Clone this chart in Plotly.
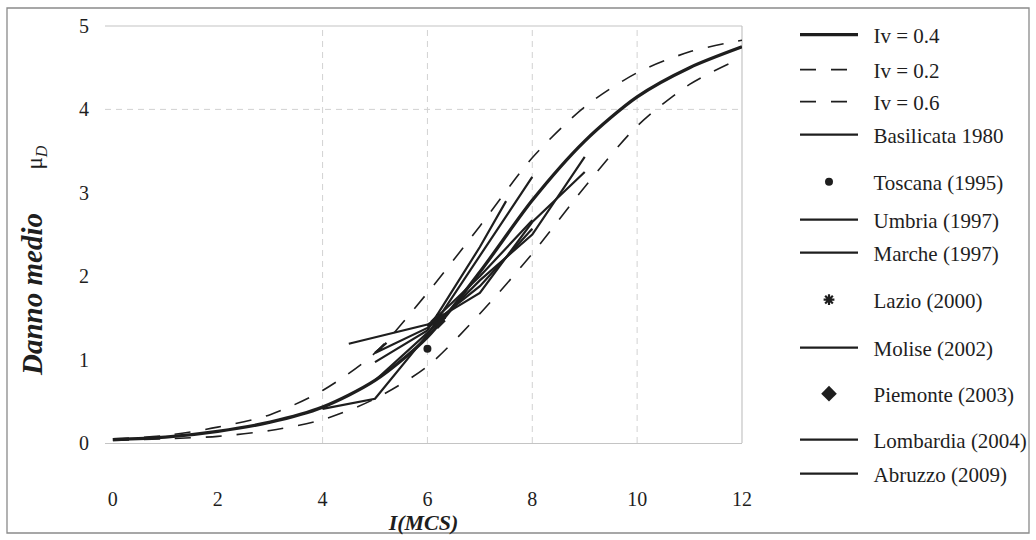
import plotly.graph_objects as go

# ---------------- data ----------------
I_model = [0, 1, 2, 3, 4, 5, 6, 7, 8, 9, 10, 11, 12]
iv04 = [0.04, 0.07, 0.14, 0.25, 0.43, 0.75, 1.27, 2.05, 2.91, 3.62, 4.15, 4.50, 4.75]
iv02 = [0.03, 0.05, 0.08, 0.15, 0.28, 0.53, 0.92, 1.55, 2.27, 3.07, 3.80, 4.30, 4.62]
iv06 = [0.05, 0.09, 0.19, 0.34, 0.63, 1.08, 1.80, 2.60, 3.42, 4.03, 4.44, 4.69, 4.83]

basilicata_I = [4.5, 6, 7, 8, 9]
basilicata_mu = [1.19, 1.42, 1.80, 2.65, 3.25]
umbria_I = [5, 6, 7, 8, 9]
umbria_mu = [0.75, 1.32, 1.95, 2.50, 3.43]
marche_I = [4, 5, 6, 7, 8]
marche_mu = [0.41, 0.53, 1.30, 2.25, 3.19]
molise_I = [5, 6, 7, 7.5]
molise_mu = [0.97, 1.35, 2.35, 2.90]
lombardia_I = [5.22, 5, 6, 7, 8]
lombardia_mu = [1.20, 1.08, 1.38, 1.88, 2.57]
abruzzo_I = [6, 7, 8]
abruzzo_mu = [1.40, 2.00, 2.67]

toscana_I = [6]
toscana_mu = [1.13]
lazio_I = [6.25]
lazio_mu = [1.50]
piemonte_I = [6.2]
piemonte_mu = [1.46]

x_ticks = [0, 2, 4, 6, 8, 10, 12]
y_ticks = [0, 1, 2, 3, 4, 5]

# ---------------- style ----------------
INK = "#1e1e1e"
GRID = "#d2d2d2"
FONT = "Liberation Serif, Times New Roman, serif"
PAD = "\u00a0\u00a0"
NB = "\u00a0"

fig = go.Figure()

def add_line(x, y, name, width, dash="solid", shape="linear", legend="legend"):
    fig.add_trace(go.Scatter(
        x=x, y=y, name=PAD + name, mode="lines",
        line=dict(color=INK, width=width, dash=dash, shape=shape, smoothing=0.8),
        legend=legend,
    ))

def add_marker(x, y, name, symbol, size, legend, lw=0):
    fig.add_trace(go.Scatter(
        x=x, y=y, name=PAD + name, mode="markers",
        marker=dict(symbol=symbol, size=size, color=INK, line=dict(color=INK, width=lw)),
        legend=legend,
    ))

add_line(I_model, iv04, "Iv = 0.4", 3.3, shape="spline", legend="legend")
add_line(I_model, iv02, "Iv = 0.2", 1.6, dash="16px,15px", shape="spline", legend="legend2")
add_line(I_model, iv06, "Iv = 0.6", 1.6, dash="16px,15px", shape="spline", legend="legend3")
add_line(basilicata_I, basilicata_mu, "Basilicata 1980", 2.2, legend="legend4")
add_marker(toscana_I, toscana_mu, "Toscana (1995)", "circle", 8, "legend5")
add_line(umbria_I, umbria_mu, "Umbria (1997)", 2.2, legend="legend6")
add_line(marche_I, marche_mu, "Marche (1997)", 2.2, legend="legend7")
add_marker(lazio_I, lazio_mu, "Lazio (2000)", "asterisk-open", 9, "legend8", lw=2.2)
add_line(molise_I, molise_mu, "Molise (2002)", 2.2, legend="legend9")
add_marker(piemonte_I, piemonte_mu, "Piemonte (2003)", "diamond", 12, "legend10")
add_line(lombardia_I, lombardia_mu, "Lombardia (2004)", 2.2, legend="legend11")
add_line(abruzzo_I, abruzzo_mu, "Abruzzo (2009)", 2.2, legend="legend12")

# plot area in pixels
L, R, T, B = 105, 742, 26, 443
W, H = 1036, 540

def py2paper(py):
    return (B - py) / (B - T)

def px2paper(px):
    return (px - L) / (R - L)

legend_py = [35, 70, 102, 135, 182, 220, 253, 300, 348, 394, 440, 474]
layout_legends = {}
for k, py in enumerate(legend_py):
    key = "legend" if k == 0 else f"legend{k+1}"
    layout_legends[key] = dict(
        x=px2paper(795), xanchor="left", y=py2paper(py), yanchor="middle",
        bgcolor="rgba(0,0,0,0)", borderwidth=0,
        font=dict(family=FONT, size=21, color=INK),
        itemwidth=58, tracegroupgap=0,
    )

shapes = []
for gx in [4, 6, 8, 10]:
    shapes.append(dict(type="line", xref="x", yref="paper", x0=gx, x1=gx, y0=0, y1=1,
                       line=dict(color=GRID, width=1, dash="6px,5px"), layer="below"))
shapes.append(dict(type="line", xref="paper", yref="y", x0=0, x1=1, y0=4, y1=4,
                   line=dict(color=GRID, width=1, dash="6px,5px"), layer="below"))
shapes.append(dict(type="line", xref="paper", yref="paper", x0=0, x1=1, y0=1, y1=1,
                   line=dict(color="#c4c4c4", width=1.2), layer="below"))
shapes.append(dict(type="line", xref="paper", yref="paper", x0=1, x1=1, y0=0, y1=1,
                   line=dict(color="#c4c4c4", width=1.2), layer="below"))
shapes.append(dict(type="rect", xref="paper", yref="paper",
                   x0=px2paper(7), x1=px2paper(1029), y0=py2paper(533), y1=py2paper(8),
                   line=dict(color="#8a8a8a", width=1.3), fillcolor="rgba(0,0,0,0)"))

annotations = [
    dict(text="<b><i>Danno medio</i></b>" + NB * 6 +
              "<span style='font-size:23px'>μ<sub><i>D</i></sub></span>",
         textangle=-90, xref="paper", yref="paper",
         x=px2paper(33), y=py2paper(261), xanchor="center", yanchor="middle",
         showarrow=False, font=dict(family=FONT, size=29, color=INK)),
]

fig.update_layout(
    width=W, height=H,
    margin=dict(l=L, r=W - R, t=T, b=H - B, autoexpand=False),
    paper_bgcolor="white", plot_bgcolor="white",
    font=dict(family=FONT, color=INK),
    shapes=shapes,
    annotations=annotations,
    showlegend=True,
    **layout_legends,
    xaxis=dict(
        range=[-0.15, 12], tickvals=x_ticks, ticktext=[str(v) for v in x_ticks],
        showgrid=False, zeroline=False, automargin=False,
        showline=True, linecolor="#c4c4c4", linewidth=1.2,
        ticks="outside", ticklen=38, tickcolor="rgba(0,0,0,0)",
        tickfont=dict(family=FONT, size=20, color=INK),
        title=dict(text="<b><i>I(MCS)</i></b>", font=dict(family=FONT, size=22, color=INK), standoff=4),
    ),
    yaxis=dict(
        range=[0, 5], tickvals=y_ticks, ticktext=[str(v) for v in y_ticks],
        showgrid=False, zeroline=False, showline=False, automargin=False,
        ticks="outside", ticklen=11, tickcolor="rgba(0,0,0,0)",
        tickfont=dict(family=FONT, size=20, color=INK),
    ),
)

fig.write_html("out.html", post_script="document.body.style.margin='0';",
               config={"displayModeBar": False})
